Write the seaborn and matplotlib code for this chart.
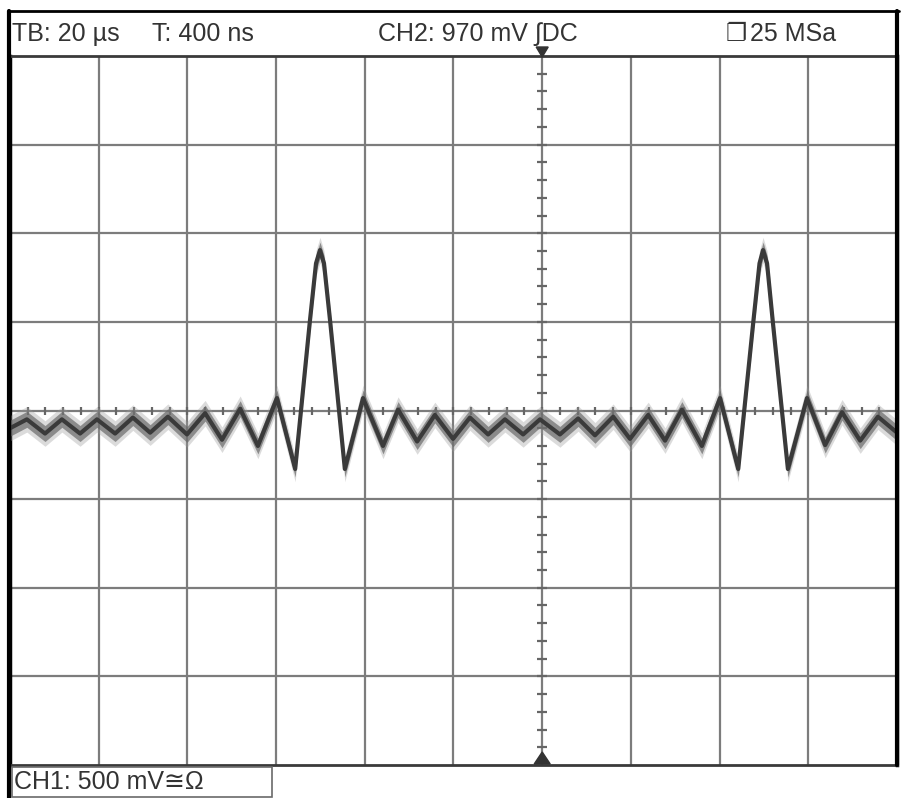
import matplotlib
matplotlib.use("Agg")
import matplotlib.pyplot as plt
import matplotlib.patches as mpatches
import seaborn as sns
import numpy as np
import pandas as pd

# CH1 trace (turning points of the waveform)
time_us = [0, 3.8, 7.9, 11.7, 15.8, 19.6, 23.7, 27.7, 31.6, 35.6, 39.9, 44.0,
           47.8, 51.9, 55.9, 60.2, 64.3, 67.6, 69.0, 69.9, 70.8, 72.2, 75.5,
           79.6, 84.1, 87.5, 91.8, 95.8, 99.9, 103.7, 107.8, 111.6, 115.7,
           119.5, 124.0, 128.1, 131.9, 136.0, 139.8, 143.9, 147.7, 151.5,
           156.0, 160.1, 164.2, 167.6, 169.0, 169.8, 170.7, 172.0, 175.4,
           179.7, 183.8, 187.6, 191.7, 195.7, 200]
ch1_mv = [-100, -50, -130, -50, -130, -50, -130, -40, -125, -35, -135, -15,
          -165, 10, -200, 70, -330, 500, 830, 905, 830, 500, -330,
          70, -200, 5, -175, -25, -160, -40, -135, -50, -135,
          -50, -135, -45, -140, -35, -160, -25, -170, 5,
          -200, 70, -330, 500, 830, 905, 830, 500, -330,
          70, -195, -10, -170, -35, -125]

# screen settings
timebase_us = 20
volts_per_div_mv = 500
n_xdiv, n_ydiv = 10, 8
trigger_t = 120

header_labels = ["TB: 20 µs", "T: 400 ns", "CH2: 970 mV \u222bDC", "25 MSa"]
header_x = [12, 152, 378, 750]
footer_label = "CH1: 500 mV\u2245\u03a9"

W, H = 904, 798
sns.set_style("white")
plt.rcParams["font.family"] = ["Liberation Sans", "DejaVu Sans"]

fig = plt.figure(figsize=(W / 100, H / 100), dpi=100)
ax = fig.add_axes([10 / W, 1 - 765 / H, 887 / W, 709 / H])

df = pd.DataFrame({"t": time_us, "v": ch1_mv})
# the noise on the trace makes it a fuzzy band
ax.fill_between(df["t"], df["v"] - 72, df["v"] + 72, color="#9a9a9a", alpha=0.35, lw=0, zorder=3)
ax.fill_between(df["t"], df["v"] - 45, df["v"] + 45, color="#6a6a6a", alpha=0.7, lw=0, zorder=3)
sns.lineplot(data=df, x="t", y="v", ax=ax, color="#3a3a3a", lw=3, zorder=4)

t_max = timebase_us * n_xdiv
v_max = volts_per_div_mv * n_ydiv / 2
ax.set_xlim(0, t_max)
ax.set_ylim(-v_max, v_max)

# graticule
for x in range(timebase_us, t_max, timebase_us):
    ax.axvline(x, color="#7c7c7c", lw=1.6, zorder=1)
for y in range(-int(v_max) + volts_per_div_mv, int(v_max), volts_per_div_mv):
    ax.axhline(y, color="#7c7c7c", lw=1.6, zorder=1)

# small ticks on the centre axes
xt = np.arange(timebase_us / 5, t_max, timebase_us / 5)
ax.plot(xt, np.zeros_like(xt), ls="none", marker="|", ms=6, mew=1.6, color="#666666", zorder=2)
yt = np.arange(-v_max + volts_per_div_mv / 5, v_max, volts_per_div_mv / 5)
ax.plot(np.full_like(yt, trigger_t), yt, ls="none", marker="_", ms=7, mew=1.6, color="#666666", zorder=2)

ax.set_xticks([])
ax.set_yticks([])
ax.set_xlabel("")
ax.set_ylabel("")
for side in ["top", "bottom"]:
    ax.spines[side].set_color("#3a3a3a")
    ax.spines[side].set_linewidth(2)
for side in ["left", "right"]:
    ax.spines[side].set_color("black")
    ax.spines[side].set_linewidth(2.5)

# overlay for the screen frame and status texts
ov = fig.add_axes([0, 0, 1, 1], zorder=5)
ov.set_xlim(0, W)
ov.set_ylim(H, 0)
ov.axis("off")
ov.patch.set_alpha(0)

ov.plot([8, 899], [11, 11], color="black", lw=2)
ov.plot([9, 9], [11, H], color="black", lw=3)
ov.plot([897.5, 897.5], [11, 765], color="black", lw=3)

# trigger markers
tx = 10 + trigger_t / t_max * 887
ov.add_patch(mpatches.Polygon([[tx - 6, 47], [tx + 6, 47], [tx, 57]], color="#333333"))
ov.add_patch(mpatches.Polygon([[tx - 8, 764], [tx + 8, 764], [tx, 752]], color="#333333"))

for lab, x in zip(header_labels, header_x):
    ov.text(x, 34, lab, fontsize=18, color="#333333", va="center", ha="left")
ov.text(726, 34, "\u2750", fontsize=17, color="#333333", va="center", ha="left",
        family=["DejaVu Sans"])

ov.add_patch(mpatches.Rectangle((12, 767), 260, 30, fill=False, edgecolor="#6a6a6a", lw=1.2))
ov.text(14, 782, footer_label, fontsize=18, color="#333333", va="center", ha="left")

fig.savefig("out.png", dpi=100)
